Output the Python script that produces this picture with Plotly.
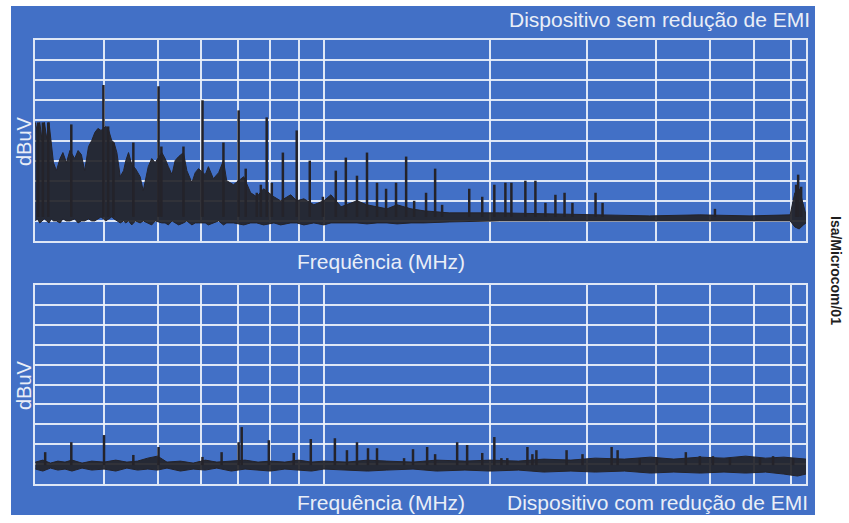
import math
import plotly.graph_objects as go

# ---------------- data ----------------
freq_grid_mhz = [40, 50, 60, 70, 80, 90, 100, 200, 300, 400, 500, 600, 700]
freq_range_mhz = [30, 746]
level_range_dbuv = [0, 100]
level_step_dbuv = 10

# Top panel: device without EMI reduction -- noise band envelope
top_noise_f = [30.05, 30.3, 30.6, 30.9, 31.2, 31.5, 31.8, 32.1, 32.4, 32.8,
               33.3, 33.7, 34.2, 34.7, 35.4, 35.9, 36.4, 36.9, 37.5, 38.0,
               38.5, 39.0, 39.5, 40.3, 40.7, 41.3, 41.7, 42.2, 42.8, 43.4,
               43.8, 44.3, 44.9, 45.6, 46.5, 47.1, 48.1, 48.8, 49.5, 50.9,
               51.6, 52.3, 53.1, 53.8, 54.6, 55.7, 56.5, 57.7, 58.5, 59.3,
               61.0, 61.8, 63.1, 64.5, 65.8, 66.7, 68.6, 71.6, 73.7, 75.6,
               77.8, 81.2, 83.5, 87.1, 89.3, 92.0, 95.9, 100, 103.0, 107.4,
               112.0, 114.8, 119.7, 124.8, 130.1, 135.7, 143.8, 151.9, 168.6, 207.8,
               256.0, 315.6, 388.9, 479.3, 590.7, 698.3, 712, 725, 738, 746]
top_noise_hi = [59, 54, 59, 50, 59, 51, 59, 48, 39, 35,
                41, 44, 39, 45, 41, 45, 43, 35, 47, 50,
                54, 56, 55, 57, 56, 50, 49, 44, 32, 35,
                40, 44, 38, 36, 32, 25, 37, 41, 39, 44,
                41, 37, 33, 40, 42, 44, 35, 29, 34, 36,
                33, 37, 31, 34, 40, 30, 28, 32, 24, 22,
                26, 22, 20, 23, 20, 21, 18, 20, 23, 17,
                19, 20, 18, 17, 16, 18, 16, 15, 14, 14,
                13.5, 13, 12.5, 13, 12.5, 13, 24, 26, 18, 13]
top_noise_lo = [10, 11, 9, 10, 11, 10, 9, 11, 10, 10,
                9, 11, 10, 10, 11, 9, 10, 10, 11, 10,
                10, 11, 12, 10, 11, 12, 11, 10, 9, 10,
                9, 10, 8, 10, 9, 10, 9, 8, 10, 9,
                9, 8, 10, 9, 8, 9, 10, 8, 9, 9,
                9, 8, 9, 10, 8, 9, 9, 8, 9, 9,
                8, 9, 8, 9, 9, 8, 9, 8, 9, 9,
                9, 9, 8.5, 9, 9, 8.5, 9, 9, 9.5, 10,
                10, 10, 10, 10, 10, 10, 7, 6, 8, 9]
top_spike_f = [30.4, 31.0, 31.7, 34.9, 39.9, 40.7, 41.6, 45.2, 50.2, 50.8,
               55.7, 60.3, 65.8, 70.1, 72.2, 75.6, 76.9, 78.8, 80.5, 84.3,
               89.3, 94.3, 99.6, 105.1, 109.6, 114.8, 119.7, 124.8, 129.6, 135.1,
               140.9, 145.7, 153.1, 159.0, 163.7, 183.3, 193.5, 203.5, 213.1, 218.5,
               231.6, 241.5, 251.8, 262.5, 272.7, 281.8, 310.3, 319.5, 510.4, 716,
               722, 731]
top_spike_db = [59, 59, 59, 58, 77.6, 57, 49, 49, 77, 47,
                47, 70, 49, 65, 36, 24, 28, 61.5, 29, 44,
                55, 40, 22, 35, 41.5, 32.5, 44, 29, 26, 29,
                42, 20, 24, 36, 18, 26, 22, 28, 29, 29,
                30, 30, 19, 23, 24, 19, 24, 19, 16, 28,
                33, 27]
top_spike_base_db = 12

# Bottom panel: device with EMI reduction
bot_noise_f = [30.05, 31, 32, 33, 34, 35, 36.5, 38, 40, 42,
               44, 46, 48, 50, 52, 55, 58, 61, 64, 68,
               72, 76, 80, 85, 90, 95, 100, 110, 120, 130,
               145, 160, 180, 200, 225, 250, 280, 310, 350, 390,
               430, 480, 530, 580, 630, 680, 720, 746]
bot_noise_hi = [11, 12, 10.5, 11.5, 11, 12, 10.5, 11.5, 11, 12,
                11, 11.5, 13, 14, 11, 11.5, 10.5, 12, 11, 11.5,
                12, 11, 11.5, 11, 12, 11, 11.5, 11, 12, 11.5,
                11, 12, 11.5, 12, 11.5, 12.5, 12, 13, 12.5, 13.5,
                12.5, 13.5, 13, 14, 13, 13.5, 13, 12.5]
bot_noise_lo = [7.5, 6.5, 8, 7, 7.5, 6.5, 8, 7, 7.5, 6.5,
                8, 7, 7.5, 7, 8, 6.5, 7.5, 7, 8, 6.5,
                7.5, 7, 6.5, 7.5, 7, 6.5, 7.5, 7, 6.5, 7,
                7.5, 6.5, 7, 6.5, 7, 6, 6.5, 6, 6.5, 5.5,
                6, 5.5, 6, 5.5, 6, 5, 4, 5]
bot_spike_f = [31.3, 34.9, 40.0, 45.2, 50.2, 60.3, 65.3, 70.1, 71.0, 79.5,
               88.2, 94.7, 104.7, 110.1, 114.8, 120.2, 124.8, 139.7, 145.0, 153.8,
               159.0, 174.3, 181.7, 193.5, 203.5, 209.6, 214.8, 233.6, 238.5, 242.5,
               275.0, 293.9, 331.8, 340.2, 373.1, 400.6, 452.1, 479.3, 506.1, 543.3,
               615.9, 650.3, 707.0]
bot_spike_db = [16, 21, 24.6, 14.6, 18.6, 13.6, 16, 21, 28.6, 22,
                15.6, 22.6, 23, 17, 21, 18, 18, 13, 17.5, 18.6,
                15, 21, 19.6, 15.6, 23.6, 13, 13, 18.6, 15, 17,
                17, 15, 18.6, 17, 13, 13.5, 16, 14, 14, 13,
                13, 14, 13]
bot_spike_base_db = 9.5

assert len(top_noise_f) == len(top_noise_hi) == len(top_noise_lo)
assert len(top_spike_f) == len(top_spike_db)
assert len(bot_noise_f) == len(bot_noise_hi) == len(bot_noise_lo)
assert len(bot_spike_f) == len(bot_spike_db)

# ---------------- style ----------------
W, H = 849, 523
BLUE = "rgb(66,112,198)"
GRID = "rgba(236,241,250,0.92)"
TRACE = "#24232a"
TXT = "#e9eef7"
FONT = "Liberation Sans, Arial, Helvetica, sans-serif"


def px_x(x):
    return x / W


def px_y(y):
    return 1 - y / H


def spikes(freqs, levels, base):
    xs, ys = [], []
    for f, v in zip(freqs, levels):
        xs += [f, f, None]
        ys += [base, v, None]
    return xs, ys


fig = go.Figure()

panels = [
    ("x", "y", top_noise_f, top_noise_hi, top_noise_lo, top_spike_f, top_spike_db, top_spike_base_db),
    ("x2", "y2", bot_noise_f, bot_noise_hi, bot_noise_lo, bot_spike_f, bot_spike_db, bot_spike_base_db),
]
for xa, ya, nf, nhi, nlo, sf, sv, base in panels:
    fig.add_trace(go.Scatter(x=nf, y=nlo, mode="lines", line=dict(color=TRACE, width=1),
                             xaxis=xa, yaxis=ya, hoverinfo="skip", showlegend=False))
    fig.add_trace(go.Scatter(x=nf, y=nhi, mode="lines", line=dict(color=TRACE, width=1),
                             fill="tonexty", fillcolor="rgba(36,35,42,0.93)",
                             xaxis=xa, yaxis=ya, hoverinfo="skip", showlegend=False))
    sx, sy = spikes(sf, sv, base)
    fig.add_trace(go.Scatter(x=sx, y=sy, mode="lines", line=dict(color=TRACE, width=2.5),
                             connectgaps=False, xaxis=xa, yaxis=ya,
                             hoverinfo="skip", showlegend=False))

xdom = [px_x(35), px_x(806)]
ax_x = dict(type="log", range=[math.log10(freq_range_mhz[0]), math.log10(freq_range_mhz[1])],
            tickvals=freq_grid_mhz, showticklabels=False, ticks="", showgrid=True,
            gridcolor=GRID, gridwidth=2, showline=True, mirror=True, linecolor=GRID,
            linewidth=2, zeroline=False, fixedrange=True)
ax_y = dict(range=level_range_dbuv, dtick=level_step_dbuv, tick0=0, showticklabels=False,
            ticks="", showgrid=True, gridcolor=GRID, gridwidth=2, showline=True, mirror=True,
            linecolor=GRID, linewidth=2, zeroline=False, fixedrange=True)

fig.update_layout(
    width=W, height=H, autosize=False,
    margin=dict(l=0, r=0, t=0, b=0, pad=0),
    paper_bgcolor="white", plot_bgcolor="rgba(0,0,0,0)",
    showlegend=False,
    xaxis=dict(ax_x, domain=xdom, anchor="y"),
    yaxis=dict(ax_y, domain=[px_y(241), px_y(40)], anchor="x"),
    xaxis2=dict(ax_x, domain=xdom, anchor="y2"),
    yaxis2=dict(ax_y, domain=[px_y(484), px_y(285)], anchor="x2"),
    shapes=[dict(type="rect", xref="paper", yref="paper", x0=px_x(11), x1=px_x(815),
                 y0=px_y(515), y1=px_y(6), fillcolor=BLUE, line=dict(width=0), layer="below")],
)


def label(text, x, y, xanchor="center", size=21, angle=0, color=TXT, bold=False):
    fig.add_annotation(text=("<b>%s</b>" % text) if bold else text,
                       xref="paper", yref="paper", x=px_x(x), y=px_y(y),
                       xanchor=xanchor, yanchor="middle", showarrow=False,
                       textangle=angle, font=dict(family=FONT, size=size, color=color))


label("Dispositivo sem redução de EMI", 812, 20, xanchor="right")
label("Frequência (MHz)", 381, 261)
label("dBuV", 24, 141, size=20, angle=-90)
label("dBuV", 24, 385, size=20, angle=-90)
label("Frequência (MHz)", 381, 502)
label("Dispositivo com redução de EMI", 810, 502, xanchor="right")
label("Isa/Microcom/01", 836, 270, size=14, angle=90, color="#1e1e1e", bold=True)

fig.write_html("out.html", config={"displayModeBar": False, "staticPlot": True},
               post_script="document.body.style.margin='0px';document.body.style.overflow='hidden';")
